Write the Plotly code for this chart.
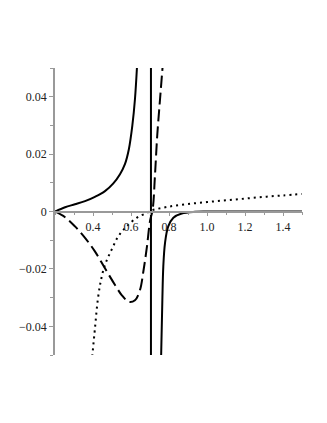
import plotly.graph_objects as go

# solid curve: left branch, jump at the pole, right branch (None breaks the line)
solid_x = [0.2, 0.253, 0.305, 0.358, 0.41, 0.463, 0.507, 0.542, 0.568, 0.589, 0.607, 0.621, 0.632,
           None, 0.705, 0.705,
           None, 0.758, 0.765, 0.770, 0.779, 0.796, 0.823, 0.867, 0.937, 1.0, 1.2, 1.5]
solid_y = [0.0, 0.0015, 0.0025, 0.0036, 0.0051, 0.0071, 0.0098, 0.013, 0.0165, 0.0218, 0.0299, 0.0393, 0.051,
           None, 0.052, -0.052,
           None, -0.052, -0.0309, -0.0192, -0.011, -0.0052, -0.0022, -0.0007, -0.0001, 0.0, 0.0, 0.0]

dash_x = [0.2, 0.253, 0.305, 0.358, 0.41, 0.463, 0.516, 0.551, 0.589, 0.621, 0.647, 0.665, 0.683, 0.7,
          0.714, 0.726, 0.738, 0.753, 0.767]
dash_y = [0.0, -0.002, -0.0052, -0.0092, -0.0139, -0.0198, -0.0256, -0.0291, -0.0315, -0.0309, -0.0274,
          -0.0209, -0.0127, -0.0034, 0.0007, 0.0124, 0.0264, 0.0393, 0.051]

dot_x = [0.396, 0.411, 0.425, 0.442, 0.463, 0.498, 0.533, 0.577, 0.63, 0.683, 0.71, 0.8, 0.9, 1.0,
         1.1, 1.2, 1.3, 1.4, 1.5]
dot_y = [-0.0505, -0.0402, -0.0309, -0.0239, -0.0186, -0.0133, -0.0087, -0.0052, -0.0022, -0.0005, 0.0004,
         0.0017, 0.0026, 0.0033, 0.0039, 0.0045, 0.0051, 0.0056, 0.0061]

x_ticks = [0.4, 0.6, 0.8, 1.0, 1.2, 1.4]
x_labels = ["0.4", "0.6", "0.8", "1.0", "1.2", "1.4"]
y_ticks = [-0.04, -0.02, 0, 0.02, 0.04]
y_labels = ["\u22120.04", "\u22120.02", "0", "0.02", "0.04"]

fig = go.Figure()
fig.add_trace(go.Scatter(x=solid_x, y=solid_y, mode="lines",
                         line=dict(color="black", width=2, shape="spline", smoothing=1),
                         connectgaps=False))
fig.add_trace(go.Scatter(x=dash_x, y=dash_y, mode="lines",
                         line=dict(color="black", width=2, dash="12px,5px", shape="spline", smoothing=1)))
fig.add_trace(go.Scatter(x=dot_x, y=dot_y, mode="lines",
                         line=dict(color="black", width=2, dash="2px,4px", shape="spline", smoothing=1)))

axis_font = dict(family="Liberation Serif, DejaVu Serif, serif", size=12, color="#222")

# the page body adds an 8px offset, so margins are shifted to keep the plot area in place
fig.update_layout(
    width=327, height=423,
    margin=dict(l=47, r=33, t=60, b=76),
    showlegend=False,
    plot_bgcolor="white",
    paper_bgcolor="white",
    xaxis=dict(range=[0.2, 1.5], showgrid=False, zeroline=False,
               tickmode="array", tickvals=x_ticks, ticktext=x_labels,
               ticks="outside", ticklen=4, tickcolor="#999",
               showline=True, linecolor="#999", linewidth=1.5,
               anchor="free", position=0.5, tickfont=axis_font,
               minor=dict(tickmode="linear", tick0=0.2, dtick=0.1, ticks="outside", ticklen=3, tickcolor="#999")),
    yaxis=dict(range=[-0.05, 0.05], showgrid=False, zeroline=False,
               tickmode="array", tickvals=y_ticks, ticktext=y_labels,
               ticks="outside", ticklen=4, tickcolor="#999",
               showline=True, linecolor="#999", linewidth=1.5,
               tickfont=axis_font,
               minor=dict(tickmode="linear", tick0=0, dtick=0.01, ticks="outside", ticklen=3, tickcolor="#999")),
)

fig.write_html("out.html")
